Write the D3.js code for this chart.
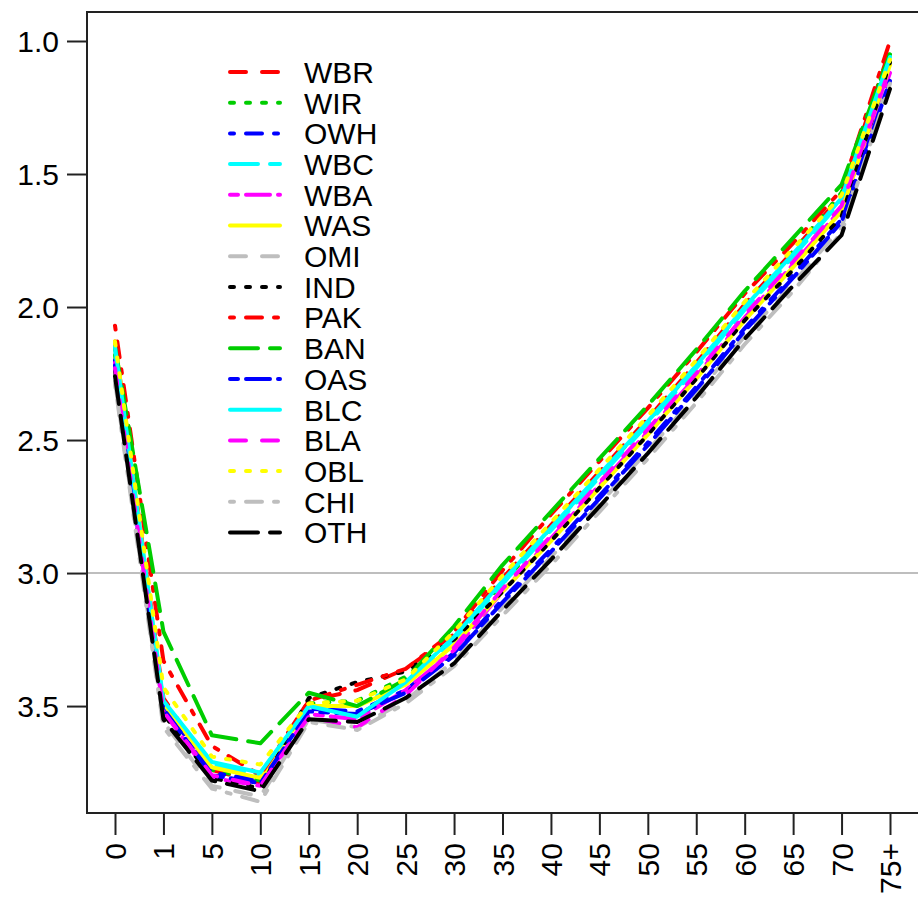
<!DOCTYPE html>
<html>
<head>
<meta charset="utf-8">
<script src="https://cdn.jsdelivr.net/npm/d3@7"></script>
<style>
  body { margin: 0; background: #fff; }
  text { font-family: "Liberation Sans", Arial, sans-serif; }
</style>
</head>
<body>
<div id="container"></div>
<script>
// age groups on the x axis
var ages = ["0","1","5","10","15","20","25","30","35","40","45","50","55","60","65","70","75+"];

// y axis ticks (axis is reversed)
var yTicks = [1.0, 1.5, 2.0, 2.5, 3.0, 3.5];

// group names, in legend order
var groups = ["WBR","WIR","OWH","WBC","WBA","WAS","OMI","IND","PAK","BAN","OAS","BLC","BLA","OBL","CHI","OTH"];

// colours and line types, R style
var colors = ["#ff0000","#00cd00","#0000ff","#00ffff","#ff00ff","#ffff00","#bebebe","#000000",
              "#ff0000","#00cd00","#0000ff","#00ffff","#ff00ff","#ffff00","#bebebe","#000000"];
var ltys = ["dashed","dotted","dotdash","longdash","twodash","solid","dashed","dotted",
            "dotdash","longdash","twodash","solid","dashed","dotted","dotdash","longdash"];

// values per group
var WBR = [2.13,3.47,3.74,3.79,3.48,3.44,3.36,3.23,3.02,2.82,2.62,2.42,2.21,1.99,1.79,1.58,1.03];
var WIR = [2.18,3.50,3.74,3.78,3.49,3.48,3.39,3.24,3.04,2.83,2.63,2.43,2.22,2.00,1.79,1.57,1.04];
var OWH = [2.20,3.50,3.75,3.78,3.51,3.52,3.44,3.30,3.10,2.91,2.71,2.51,2.30,2.08,1.88,1.67,1.13];
var WBC = [2.16,3.49,3.72,3.76,3.50,3.50,3.41,3.25,3.04,2.84,2.64,2.44,2.23,2.01,1.81,1.60,1.08];
var WBA = [2.21,3.52,3.77,3.80,3.53,3.55,3.44,3.29,3.07,2.87,2.67,2.47,2.26,2.04,1.84,1.63,1.12];
var WAS = [2.13,3.49,3.73,3.77,3.50,3.50,3.42,3.27,3.07,2.88,2.68,2.48,2.27,2.05,1.85,1.64,1.09];
var OMI = [2.28,3.56,3.80,3.84,3.55,3.58,3.48,3.33,3.13,2.94,2.74,2.54,2.33,2.11,1.91,1.70,1.14];
var IND = [2.24,3.53,3.77,3.81,3.47,3.41,3.37,3.25,3.07,2.88,2.68,2.48,2.27,2.05,1.86,1.66,1.08];
var PAK = [2.07,3.33,3.65,3.76,3.48,3.42,3.36,3.22,2.99,2.78,2.58,2.38,2.17,1.95,1.76,1.56,1.00];
var BAN = [2.15,3.22,3.61,3.64,3.45,3.50,3.40,3.20,2.97,2.77,2.57,2.37,2.16,1.94,1.74,1.54,1.05];
var OAS = [2.22,3.51,3.76,3.79,3.52,3.53,3.45,3.31,3.11,2.92,2.72,2.52,2.31,2.09,1.89,1.68,1.15];
var BLC = [2.15,3.48,3.71,3.75,3.50,3.54,3.41,3.24,3.03,2.83,2.63,2.43,2.22,2.00,1.80,1.59,1.06];
var BLA = [2.23,3.52,3.76,3.80,3.54,3.58,3.46,3.28,3.06,2.86,2.66,2.46,2.25,2.03,1.83,1.62,1.10];
var OBL = [2.13,3.43,3.69,3.72,3.49,3.48,3.40,3.22,3.01,2.81,2.61,2.41,2.20,1.98,1.78,1.58,1.07];
var CHI = [2.29,3.58,3.81,3.86,3.56,3.59,3.49,3.35,3.16,2.97,2.77,2.57,2.36,2.14,1.94,1.72,1.16];
var OTH = [2.26,3.55,3.78,3.82,3.55,3.56,3.47,3.34,3.14,2.95,2.75,2.55,2.34,2.12,1.92,1.73,1.18];

var series = [WBR,WIR,OWH,WBC,WBA,WAS,OMI,IND,PAK,BAN,OAS,BLC,BLA,OBL,CHI,OTH];

var lwd = 4;
// R dash patterns, scaled by line width
var dashes = {
  solid: null,
  dashed: [4,4],
  dotted: [1,3],
  dotdash: [1,3,4,3],
  longdash: [7,3],
  twodash: [2,2,6,2]
};
function dashFor(lty) {
  var d = dashes[lty];
  if (!d) return null;
  return d.map(function(v){ return v * lwd; }).join(",");
}

var W = 918, H = 905;
// plot box
var box = {left: 87, top: 12, right: 921, bottom: 813};

var svg = d3.select("#container").append("svg")
  .attr("width", W)
  .attr("height", H);

var x = d3.scalePoint().domain(ages).range([115, 890]);
var y = d3.scaleLinear().domain([0.891, 3.902]).range([box.top, box.bottom]);

// reference line at 3.0
svg.append("line")
  .attr("x1", box.left).attr("x2", box.right)
  .attr("y1", y(3)).attr("y2", y(3))
  .attr("stroke", "#bebebe")
  .attr("stroke-width", 2);

// the lines
var line = d3.line()
  .x(function(d, i){ return x(ages[i]); })
  .y(function(d){ return y(d); });

svg.append("g")
  .selectAll("path")
  .data(series)
  .enter().append("path")
    .attr("d", line)
    .attr("fill", "none")
    .attr("stroke", function(d, i){ return colors[i]; })
    .attr("stroke-width", lwd)
    .attr("stroke-linecap", "round")
    .attr("stroke-linejoin", "round")
    .attr("stroke-dasharray", function(d, i){ return dashFor(ltys[i]); });

// box
svg.append("rect")
  .attr("x", box.left).attr("y", box.top)
  .attr("width", box.right - box.left)
  .attr("height", box.bottom - box.top)
  .attr("fill", "none")
  .attr("stroke", "#222")
  .attr("stroke-width", 2);

// y axis
var yAxis = svg.append("g")
  .attr("transform", "translate(" + box.left + ",0)")
  .call(d3.axisLeft(y).tickValues(yTicks).tickFormat(d3.format(".1f")).tickSize(20).tickPadding(8));
yAxis.select(".domain").remove();
yAxis.selectAll(".tick line").attr("stroke", "#222").attr("stroke-width", 2);
yAxis.selectAll(".tick text")
  .attr("fill", "#000")
  .style("font-size", "30px")
  .attr("dy", "0.35em");

// x axis
var xAxis = svg.append("g")
  .attr("transform", "translate(0," + box.bottom + ")")
  .call(d3.axisBottom(x).tickSize(22).tickPadding(8));
xAxis.select(".domain").remove();
xAxis.selectAll(".tick line").attr("stroke", "#222").attr("stroke-width", 2);
xAxis.selectAll(".tick text")
  .attr("fill", "#000")
  .style("font-size", "30px")
  .attr("text-anchor", "end")
  .attr("transform", "rotate(-90)")
  .attr("x", -30)
  .attr("y", 0)
  .attr("dy", "0.35em");

// legend
var legend = svg.append("g");
var rowH = 30.7;
groups.forEach(function(g, i) {
  var yy = 72 + i * rowH;
  legend.append("line")
    .attr("x1", 230).attr("x2", 280)
    .attr("y1", yy).attr("y2", yy)
    .attr("stroke", colors[i])
    .attr("stroke-width", lwd)
    .attr("stroke-linecap", "round")
    .attr("stroke-dasharray", dashFor(ltys[i]));
  legend.append("text")
    .attr("x", 304)
    .attr("y", yy)
    .attr("dy", "0.36em")
    .style("font-size", "30px")
    .text(g);
});
</script>
</body>
</html>
